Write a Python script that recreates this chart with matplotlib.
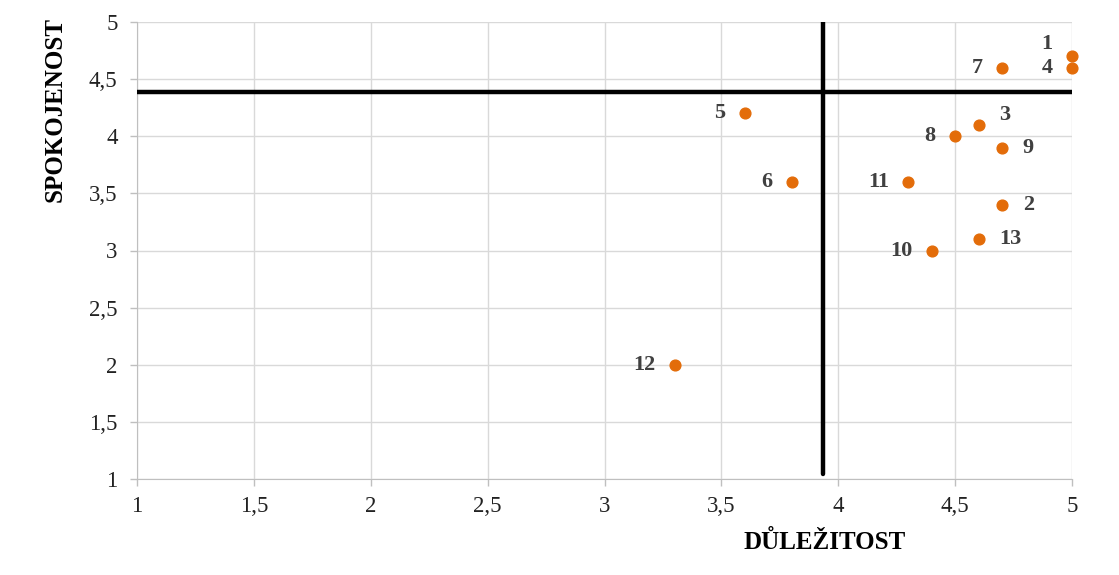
import matplotlib
matplotlib.use("Agg")
import matplotlib.pyplot as plt
from matplotlib.ticker import FixedLocator, FuncFormatter

labels = ["1", "2", "3", "4", "5", "6", "7", "8", "9", "10", "11", "12", "13"]
importance = [5.0, 4.7, 4.6, 5.0, 3.6, 3.8, 4.7, 4.5, 4.7, 4.4, 4.3, 3.3, 4.6]
satisfaction = [4.7, 3.4, 4.1, 4.6, 4.2, 3.6, 4.6, 4.0, 3.9, 3.0, 3.6, 2.0, 3.1]
label_pos = ["ul", "r", "ur", "l", "l", "l", "l", "l", "r", "l", "l", "l", "r"]
vline_x = 3.935
hline_y = 4.39
xticks = [1, 1.5, 2, 2.5, 3, 3.5, 4, 4.5, 5]
yticks = [1, 1.5, 2, 2.5, 3, 3.5, 4, 4.5, 5]

plt.rcParams['font.family'] = ['Liberation Serif', 'DejaVu Serif']

fig = plt.figure(figsize=(11.19, 5.75), dpi=100)
ax = fig.add_axes([137/1119, 1 - 479/575, (1072-137)/1119, (479-22)/575])
ax.set_xlim(1, 5)
ax.set_ylim(1, 5)
ax.xaxis.set_major_locator(FixedLocator(xticks))
ax.yaxis.set_major_locator(FixedLocator(yticks))
fmt = FuncFormatter(lambda v, p: (f"{v:g}").replace(".", ","))
ax.xaxis.set_major_formatter(fmt)
ax.yaxis.set_major_formatter(fmt)
ax.grid(True, color="#d9d9d9", linewidth=1)
ax.set_axisbelow(True)
for s in ["top", "right"]:
    ax.spines[s].set_visible(False)
for s in ["left", "bottom"]:
    ax.spines[s].set_color("#bfbfbf")
ax.tick_params(axis="both", colors="#bfbfbf", labelcolor="#222222", labelsize=16.5, length=5, width=1)
ax.tick_params(axis="x", pad=7)
ax.tick_params(axis="y", pad=9)

ax.plot([vline_x, vline_x], [1.04, 5], color="black", linewidth=3.2, solid_capstyle="round", zorder=3)
ax.plot([1, 5], [hline_y, hline_y], color="black", linewidth=3.2, solid_capstyle="round", zorder=3)

ax.scatter(importance, satisfaction, s=60, color="#E36C09", zorder=4, clip_on=False)

offsets = {"l": (-14, 0, "right", "center"), "r": (15, 0, "left", "center"),
           "ur": (15, 7, "left", "center"), "ul": (-14, 9, "right", "center")}
for lab, x, y, p in zip(labels, importance, satisfaction, label_pos):
    dx, dy, ha, va = offsets[p]
    ax.annotate(lab, (x, y), xytext=(dx, dy), textcoords="offset points",
                ha=ha, va=va, fontsize=16, fontweight="bold", color="#404040", zorder=5)

ax.set_xlabel("DŮLEŽITOST", fontsize=18, fontweight="bold", color="black")
ax.set_ylabel("SPOKOJENOST", fontsize=18, fontweight="bold", color="black")
ax.xaxis.set_label_coords((825-137)/(1072-137), -(542-479)/(479-22))
ax.yaxis.set_label_coords(-(137-55)/(1072-137), (479-110)/(479-22))
ax.xaxis.label.set_verticalalignment("center")
ax.yaxis.label.set_verticalalignment("center")

fig.savefig("out.png", dpi=100)
